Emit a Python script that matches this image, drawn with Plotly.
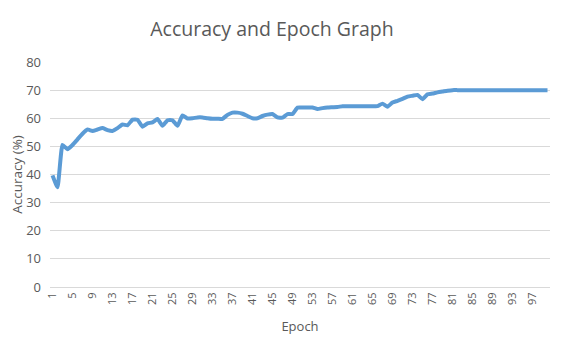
import plotly.graph_objects as go

# accuracy per epoch
epochs = list(range(1, 101))
accuracy = [
    39.7, 35.5, 50.5, 49.0, 50.5, 52.5, 54.5, 56.0, 55.5, 56.0,
    56.5, 55.8, 55.5, 56.5, 57.8, 57.5, 59.5, 59.5, 57.0, 58.2,
    58.5, 59.7, 57.3, 59.3, 59.3, 57.3, 61.0, 59.9, 60.0, 60.3,
    60.3, 60.0, 59.8, 59.8, 59.8, 61.2, 62.0, 62.0, 61.6, 60.8,
    60.0, 60.0, 60.8, 61.3, 61.5, 60.3, 60.2, 61.5, 61.5, 63.8,
    63.8, 63.8, 63.8, 63.3, 63.6, 63.8, 63.9, 64.0, 64.3, 64.3,
    64.3, 64.3, 64.3, 64.3, 64.3, 64.3, 65.2, 64.1, 65.6, 66.2,
    66.9, 67.7, 68.0, 68.3, 66.8, 68.5, 68.8, 69.2, 69.5, 69.8,
    70.0, 70.0, 70.0, 70.0, 70.0, 70.0, 70.0, 70.0, 70.0, 70.0,
    70.0, 70.0, 70.0, 70.0, 70.0, 70.0, 70.0, 70.0, 70.0, 70.0,
]
x_ticks = list(range(1, 101, 4))
y_ticks = list(range(0, 81, 10))

grey = "#595959"

fig = go.Figure()
fig.add_trace(go.Scatter(
    x=epochs, y=accuracy, mode="lines",
    line=dict(color="#5B9BD5", width=4, shape="spline", smoothing=0.4),
))

# page has an 8px body margin, so the figure is sized to fit inside it
fig.update_layout(
    width=554, height=340,
    margin=dict(l=42, r=12, t=54, b=61),
    paper_bgcolor="white", plot_bgcolor="white",
    showlegend=False,
    font=dict(family="Open Sans", color=grey),
    title=dict(text="Accuracy and Epoch Graph", x=0.4765, xanchor="center",
               y=0.938, yanchor="middle", font=dict(size=19.5, color=grey)),
)
fig.update_xaxes(
    range=[0.5, 100.5], tickmode="array", tickvals=x_ticks,
    ticktext=[str(t) for t in x_ticks], tickangle=-90,
    tickfont=dict(size=11, color=grey), showgrid=False, zeroline=False,
    showline=True, linecolor="#D9D9D9", linewidth=1, automargin=False,
    title=dict(text="Epoch", font=dict(size=13, color=grey), standoff=17),
)
fig.update_yaxes(
    range=[0, 80], tickmode="array", tickvals=y_ticks,
    tickfont=dict(size=13, color=grey), gridcolor="#D9D9D9", gridwidth=1,
    zeroline=False, ticklen=0, ticklabelstandoff=8, automargin=False,
    title=dict(text="Accuracy (%)", font=dict(size=13.5, color=grey), standoff=12),
)

fig.write_html("out.html")
